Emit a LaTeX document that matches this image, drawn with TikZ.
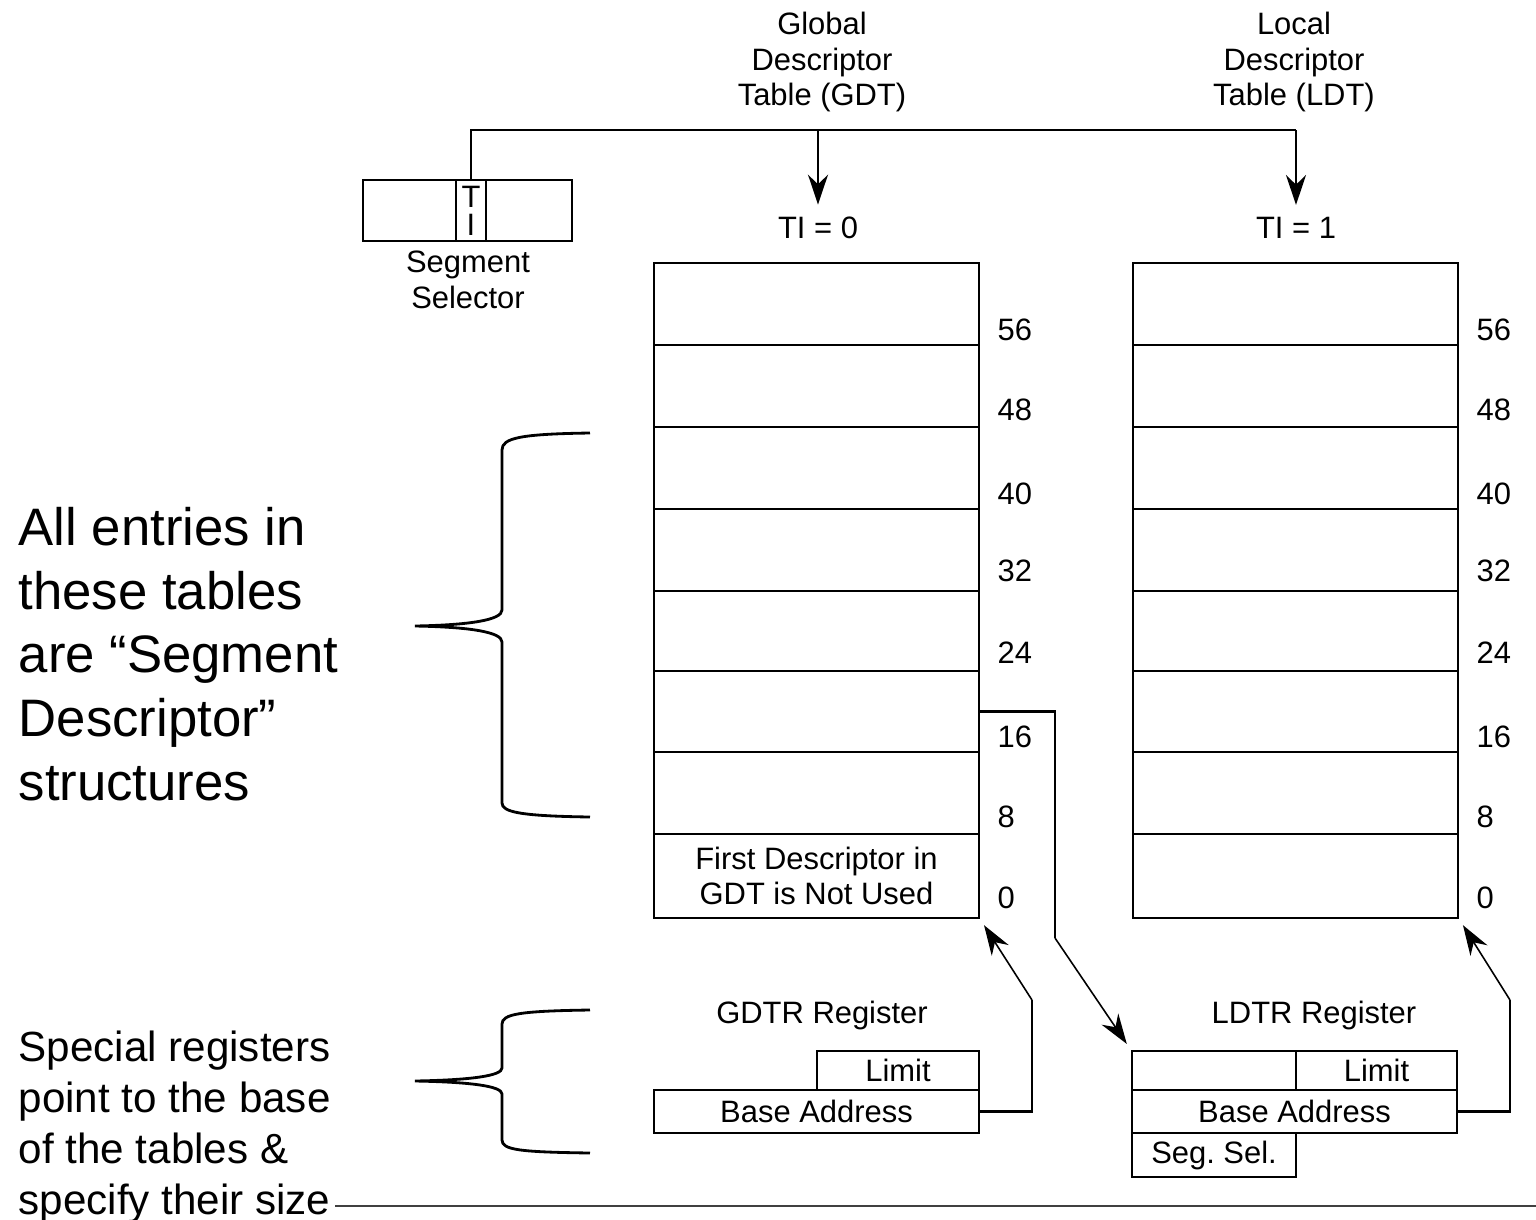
\documentclass[tikz,border=0pt]{standalone}
\usepackage{fontspec}
\setmainfont{Liberation Sans}
\usepackage{tikz}
\usetikzlibrary{positioning, arrows.meta, calc}
\frenchspacing

\begin{document}
\begin{tikzpicture}[
    x=0.1mm, y=-0.1mm,
    font=\fontsize{8.8}{10.2}\selectfont,
    line/.style={line width=0.7pt},
    row/.style={rectangle, draw, line width=0.7pt, inner sep=0, minimum width=3.25cm, minimum height=0.82cm, align=center},
    cell/.style={rectangle, draw, line width=0.7pt, inner sep=0, align=center},
    lbl/.style={anchor=west, inner sep=0},
    arrow/.style={-{Stealth[length=3mm, width=2mm]}, line width=0.7pt},
    ptr/.style={-{Stealth[length=3mm, width=2mm]}, line width=0.45pt, shorten >=2pt},
    brace/.style={line width=0.8pt},
    bigtext/.style={anchor=west, align=left, inner sep=0, font=\fontsize{15}{18.1}\selectfont},
    smalltext/.style={anchor=west, align=left, inner sep=0, font=\fontsize{12}{14.5}\selectfont}
]
    \useasboundingbox (0,0) rectangle (1536,1219);

    % titles
    \node[align=center] (gdttitle) at (822,62) {Global\\Descriptor\\Table (GDT)};
    \node[align=center] (ldttitle) at (1294,62) {Local\\Descriptor\\Table (LDT)};

    % segment selector
    \node[cell, minimum width=0.93cm, minimum height=0.61cm] (selL) at (409.5,210.5) {};
    \node[cell, minimum width=0.30cm, minimum height=0.61cm, font=\fontsize{8.8}{8}\selectfont] (ti) at (471,210.5) {T\\I};
    \node[cell, minimum width=0.86cm, minimum height=0.61cm] (selR) at (529,210.5) {};
    \node[align=center] (seltext) at (468,280) {Segment\\Selector};

    \node (tizero) at (818,228) {TI = 0};
    \node (tione) at (1296,228) {TI = 1};

    \coordinate (gdtap) at (818,130);
    \coordinate (ldtap) at (1296,130);
    \draw[line] (ti.north) |- (ldtap);
    \draw[arrow] (gdtap) -- (tizero);
    \draw[arrow] (ldtap) -- (tione);

    % GDT
    \node[row] (g56) at (816.5,304) {};
    \node[row] (g48) at (816.5,386) {};
    \node[row] (g40) at (816.5,468) {};
    \node[row] (g32) at (816.5,550) {};
    \node[row, minimum height=0.80cm] (g24) at (816.5,631) {};
    \node[row, minimum height=0.81cm] (g16) at (816.5,711.5) {};
    \node[row] (g8) at (816.5,793) {};
    \node[row, minimum height=0.84cm] (g0) at (816.5,876) {First Descriptor in\\GDT is Not Used};

    \node[lbl] at (997,330) {56};
    \node[lbl] at (997,410) {48};
    \node[lbl] at (997,494) {40};
    \node[lbl] at (997,571) {32};
    \node[lbl] at (997,653) {24};
    \node[lbl] at (997,737) {16};
    \node[lbl] at (997,817) {8};
    \node[lbl] at (997,898) {0};

    % LDT
    \node[row] (l56) at (1295.5,304) {};
    \node[row] (l48) at (1295.5,386) {};
    \node[row] (l40) at (1295.5,468) {};
    \node[row] (l32) at (1295.5,550) {};
    \node[row, minimum height=0.80cm] (l24) at (1295.5,631) {};
    \node[row, minimum height=0.81cm] (l16) at (1295.5,711.5) {};
    \node[row] (l8) at (1295.5,793) {};
    \node[row, minimum height=0.84cm] (l0) at (1295.5,876) {};

    \node[lbl] at (1476,330) {56};
    \node[lbl] at (1476,410) {48};
    \node[lbl] at (1476,494) {40};
    \node[lbl] at (1476,571) {32};
    \node[lbl] at (1476,653) {24};
    \node[lbl] at (1476,737) {16};
    \node[lbl] at (1476,817) {8};
    \node[lbl] at (1476,898) {0};

    % GDTR
    \node (gdtrtitle) at (822,1015) {GDTR Register};
    \node[cell, minimum width=1.62cm, minimum height=0.39cm] (glimit) at (898,1070.5) {Limit};
    \node[cell, minimum width=3.25cm, minimum height=0.43cm] (gbase) at (816.5,1111.5) {Base Address};

    % LDTR
    \node (ldtrtitle) at (1314,1015) {LDTR Register};
    \node[cell, minimum width=1.64cm, minimum height=0.39cm] (lspare) at (1214,1070.5) {};
    \node[cell, minimum width=1.61cm, minimum height=0.39cm] (llimit) at (1376.5,1070.5) {Limit};
    \node[cell, minimum width=3.25cm, minimum height=0.43cm] (lbase) at (1294.5,1111.5) {Base Address};
    \node[cell, minimum width=1.64cm, minimum height=0.44cm] (lsegsel) at (1214,1155) {Seg. Sel.};

    % pointers
    \coordinate (gselbend) at (1055,938);
    \coordinate (gdtrbend) at (1032,1000);
    \coordinate (ldtrbend) at (1510,1000);
    \draw[line] (g16.east) -| (gselbend);
    \draw[ptr] (gselbend) -- (lspare.north west);
    \draw[line] (gbase.east) -| (gdtrbend);
    \draw[ptr] (gdtrbend) -- (g0.south east);
    \draw[line] (lbase.east) -| (ldtrbend);
    \draw[ptr] (ldtrbend) -- (l0.south east);

    % braces
    \draw[brace] (590,433) .. controls (520,434) and (502,438) .. (502,450) -- (502,610)
        .. controls (502,620) and (470,625) .. (415,626)
        .. controls (470,627) and (502,632) .. (502,642) -- (502,803)
        .. controls (502,812) and (520,816) .. (590,817);
    \draw[brace] (590,1010) .. controls (520,1011) and (502,1014) .. (502,1024) -- (502,1068)
        .. controls (502,1076) and (470,1080) .. (415,1081)
        .. controls (470,1082) and (502,1086) .. (502,1094) -- (502,1140)
        .. controls (502,1150) and (520,1152) .. (590,1153);

    % side notes
    \node[bigtext] (entries) at (18,654) {All entries in\\these tables\\are “Segment\\Descriptor”\\structures};
    \node[smalltext] (special) at (18,1127) {Special registers\\point to the base\\of the tables \&\\specify their size};

    \coordinate (rulestart) at (335,1206);
    \coordinate (ruleend) at (1536,1206);
    \draw[line, draw=black!75] (rulestart) -- (ruleend);
\end{tikzpicture}
\end{document}
